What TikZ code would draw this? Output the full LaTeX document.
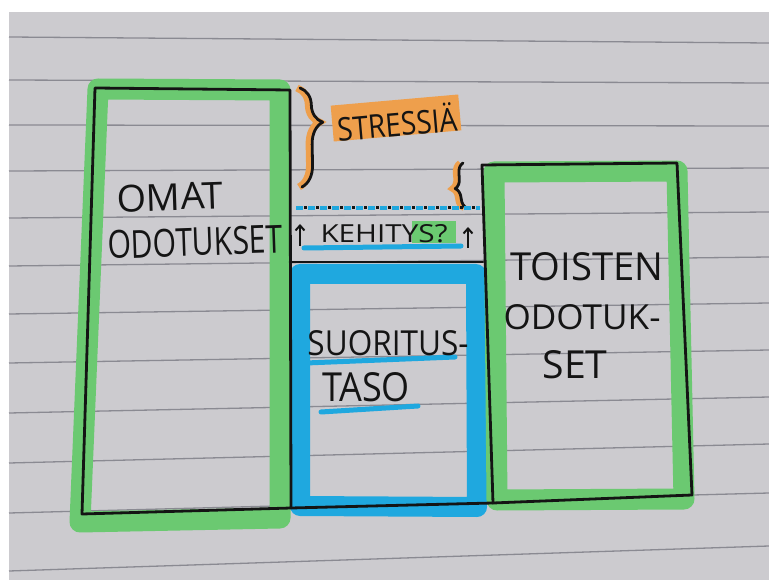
\documentclass[tikz,border=0pt]{standalone}
\usepackage{fontspec}
\usepackage{graphicx}
\setmainfont{Open Sans}
\usetikzlibrary{decorations.pathreplacing,arrows.meta}
\definecolor{paper}{HTML}{CCCBCF}
\definecolor{rulec}{HTML}{8A8A92}
\definecolor{ink}{HTML}{141414}
\definecolor{hgreen}{HTML}{6BC971}
\definecolor{hblue}{HTML}{1FA8DF}
\definecolor{horange}{HTML}{EE9F4C}
\newcommand{\fitlbl}[3]{\resizebox{#1pt}{#2pt}{#3}}
\begin{document}
\begin{tikzpicture}[x=1pt,y=-1pt,
  pen/.style={draw=ink,line width=2.8pt,line join=round,line cap=round},
  hlgreen/.style={draw=hgreen,line width=21pt,line join=round},
  hlblue/.style={draw=hblue,line width=20pt,line join=round},
  rulestyle/.style={draw=rulec,line width=1.3pt},
  lbl/.style={font=\fontsize{30}{32}\selectfont,text=ink,inner sep=0pt},
  uline/.style={draw=hblue,line width=5pt,line cap=round},
  uparrow/.style={draw=ink,line width=2pt,-{Straight Barb[length=5pt,width=9pt]}}
]
\useasboundingbox (0,0) rectangle (769,580);
\fill[white] (0,0) rectangle (769,580);
\fill[paper] (9,12) rectangle (769,580);
% ruled lines
\foreach \a/\b in {37/43,80/83,125/126,171/168,218/212,266/257,314/303,363/350,413/397,463/444,513/493,571/546}
  \draw[rulestyle] (9,\a) -- (769,\b);

% highlighter bands
\draw[hlgreen] (98,89) -- (280,90) -- (280,518) -- (80,522) -- cycle;
\draw[hlblue] (300,274) -- (476,274) -- (477,507) -- (300,506) -- cycle;
\draw[hlgreen] (494,172) -- (677,171) -- (684,499) -- (497,500) -- cycle;

% black boxes
\draw[pen] (95,88) -- (290,90) -- (291,508) -- (82,514) -- cycle;
\draw[pen] (290,262) -- (483,262);
\draw[pen] (291,508) -- (493,503);
\draw[pen] (482,165) -- (677,163) -- (692,495) -- (493,503) -- cycle;

% labels in boxes
\node[lbl,rotate=2] (omat) at (170,197) {\fitlbl{106}{27}{OMAT}};
\node[lbl,rotate=2] (odotukset) at (195,242) {\fitlbl{175}{28}{ODOTUKSET}};
\node[lbl] (toisten) at (587,267) {\fitlbl{153}{28}{TOISTEN}};
\node[lbl] (odotuk) at (582,317) {\fitlbl{157}{25}{ODOTUK-}};
\node[lbl] (set) at (575,365) {\fitlbl{65}{28}{SET}};

\draw[uline] (306,363) -- (455,357);
\draw[uline] (321,412) -- (418,406);
\node[lbl] (suoritus) at (388,343) {\fitlbl{161}{25}{SUORITUS-}};
\node[lbl] (taso) at (366,387) {\fitlbl{88}{29}{TASO}};

% stress label with braces
\coordinate (bt) at (300,88);
\coordinate (bb) at (302,187);
\draw[horange,line width=7pt,decorate,decoration={brace,amplitude=22pt,aspect=0.35}] ([xshift=-3pt]bt) -- ([xshift=-3pt]bb);
\draw[pen,decorate,decoration={brace,amplitude=22pt,aspect=0.35}] (bt) -- (bb);
\node[fill=horange,rotate=5,minimum width=128pt,minimum height=36pt,inner sep=0pt] (stressbg) at (396,118) {};
\node[lbl,rotate=5] (stressia) at (397,122) {\fitlbl{120}{29}{STRESSIÄ}};

\coordinate (st) at (467,208);
\coordinate (sb) at (463,163);
\draw[horange,line width=6pt,decorate,decoration={brace,amplitude=10pt,aspect=0.45}] ([xshift=-3pt]st) -- ([xshift=-3pt]sb);
\draw[pen,decorate,decoration={brace,amplitude=10pt,aspect=0.45}] (st) -- (sb);

% dotted level line
\coordinate (d1) at (296,208);
\coordinate (d2) at (480,208);
\draw[hblue,line width=4pt,dash pattern=on 7pt off 5pt] (d1) -- (d2);
\draw[ink,line width=3pt,dash pattern=on 2.5pt off 9.5pt,dash phase=-8pt] (d1) -- (d2);

% development
\fill[hgreen] (412,221) rectangle (456,243);
\draw[uline] (304,248) -- (461,246);
\node[lbl] (kehitys) at (384,234) {\fitlbl{127}{18}{KEHITYS?}};
\coordinate (a1s) at (300,246);
\coordinate (a1e) at (300,224);
\coordinate (a2s) at (468,248);
\coordinate (a2e) at (468,227);
\draw[uparrow] (a1s) -- (a1e);
\draw[uparrow] (a2s) -- (a2e);
\end{tikzpicture}
\end{document}
